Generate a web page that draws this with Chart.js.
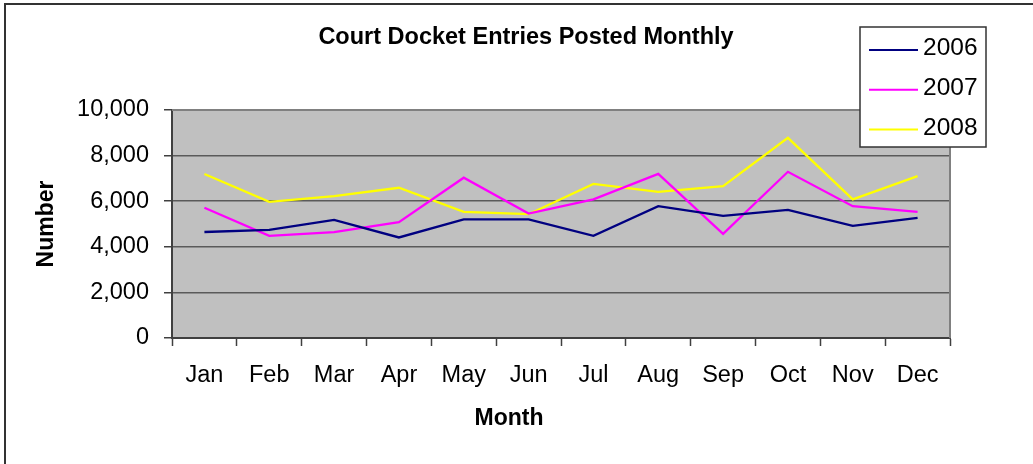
<!DOCTYPE html>
<html>
<head>
<meta charset="utf-8">
<script src="https://cdn.jsdelivr.net/npm/chart.js@4.4.1/dist/chart.umd.min.js"></script>
<style>
  body { margin: 0; background: #fff; }
  #wrap { width: 1033px; height: 464px; }
</style>
</head>
<body>
<div id="wrap"><canvas id="myChart" width="1033" height="464"></canvas></div>
<script>
// values
const months = ['Jan', 'Feb', 'Mar', 'Apr', 'May', 'Jun', 'Jul', 'Aug', 'Sep', 'Oct', 'Nov', 'Dec'];
const years = ['2006', '2007', '2008'];
const entries2006 = [4650, 4740, 5180, 4410, 5200, 5200, 4480, 5780, 5360, 5620, 4920, 5270];
const entries2007 = [5710, 4480, 4640, 5080, 7030, 5460, 6080, 7200, 4570, 7290, 5780, 5530];
const entries2008 = [7190, 5970, 6220, 6590, 5530, 5430, 6760, 6410, 6660, 8780, 6080, 7100];
const yTicks = [0, 2000, 4000, 6000, 8000, 10000];
const lineColors = ['#000080', '#FF00FF', '#FFFF00'];

Chart.defaults.font.family = '"Liberation Sans", Arial, sans-serif';
Chart.defaults.color = '#000';

// background, frame, plot fill and legend box
const excelLook = {
    id: 'excelLook',
    beforeDraw(chart) {
        const ctx = chart.ctx;
        const a = chart.chartArea;
        ctx.save();
        ctx.fillStyle = '#fff';
        ctx.fillRect(0, 0, chart.width, chart.height);
        ctx.strokeStyle = '#333';
        ctx.lineWidth = 2;
        ctx.beginPath();
        ctx.moveTo(5, chart.height + 5);
        ctx.lineTo(5, 4);
        ctx.lineTo(chart.width + 5, 4);
        ctx.stroke();
        ctx.fillStyle = '#C0C0C0';
        ctx.fillRect(a.left, a.top, a.right - a.left, a.bottom - a.top);
        ctx.restore();
    },
    beforeDatasetsDraw(chart) {
        const ctx = chart.ctx;
        const a = chart.chartArea;
        ctx.save();
        ctx.strokeStyle = '#808080';
        ctx.lineWidth = 2;
        ctx.beginPath();
        ctx.moveTo(a.left, a.top);
        ctx.lineTo(a.right, a.top);
        ctx.lineTo(a.right, a.bottom);
        ctx.stroke();
        ctx.restore();
    },
    afterDraw(chart) {
        const ctx = chart.ctx;
        ctx.save();
        // title + x axis title
        ctx.fillStyle = '#000';
        ctx.textAlign = 'center';
        ctx.textBaseline = 'middle';
        ctx.font = 'bold 23.5px "Liberation Sans", Arial, sans-serif';
        ctx.fillText('Court Docket Entries Posted Monthly', 526, 38);
        ctx.font = 'bold 23px "Liberation Sans", Arial, sans-serif';
        ctx.fillText('Month', 509, 419);
        // legend
        ctx.fillStyle = '#fff';
        ctx.fillRect(860, 27, 126, 120);
        ctx.strokeStyle = '#333';
        ctx.lineWidth = 1.5;
        ctx.strokeRect(860, 27, 126, 120);
        ctx.font = '24.5px "Liberation Sans", Arial, sans-serif';
        ctx.textAlign = 'left';
        chart.data.datasets.forEach((ds, i) => {
            const y = 50 + i * 39.7;
            ctx.strokeStyle = ds.borderColor;
            ctx.lineWidth = 2;
            ctx.beginPath();
            ctx.moveTo(869, y);
            ctx.lineTo(918, y);
            ctx.stroke();
            ctx.fillStyle = '#000';
            ctx.fillText(ds.label, 923, y - 1.5);
        });
        ctx.restore();
    }
};

const ctx = document.getElementById('myChart').getContext('2d');
const chart = new Chart(ctx, {
    type: 'line',
    data: {
        labels: months,
        datasets: [entries2006, entries2007, entries2008].map((vals, i) => ({
            label: years[i],
            data: vals,
            borderColor: lineColors[i],
            backgroundColor: lineColors[i],
            borderWidth: 2.3,
            pointRadius: 0,
            tension: 0,
            fill: false
        }))
    },
    options: {
        responsive: false,
        animation: false,
        layout: { padding: { top: 110, right: 83, left: 0, bottom: 0 } },
        plugins: {
            legend: { display: false },
            title: { display: false },
            tooltip: { enabled: false }
        },
        scales: {
            x: {
                offset: true,
                afterFit(s) { s.height = 126; },
                grid: { offset: true, drawOnChartArea: false, drawTicks: true, tickLength: 8, tickColor: '#404040', tickWidth: 1.5 },
                border: { color: '#404040', width: 2 },
                ticks: { font: { size: 23.5 }, padding: 15, maxRotation: 0, autoSkip: false }
            },
            y: {
                min: 0,
                max: 10000,
                afterFit(s) { s.width = 172; },
                afterBuildTicks(s) { s.ticks = yTicks.map(v => ({ value: v })); },
                grid: { color: '#5a5a5a', lineWidth: 1.5, tickLength: 8, tickColor: '#404040', tickWidth: 1.5 },
                border: { color: '#404040', width: 2 },
                ticks: {
                    font: { size: 23.5 },
                    padding: 15,
                    callback: v => v.toLocaleString('en-US')
                },
                title: {
                    display: true,
                    text: 'Number',
                    font: { size: 23, weight: 'bold' },
                    padding: { top: 33, bottom: 0 }
                }
            }
        }
    },
    plugins: [excelLook]
});
</script>
</body>
</html>
